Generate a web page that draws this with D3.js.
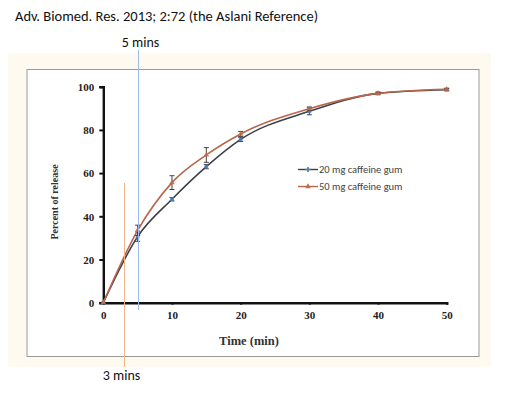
<!DOCTYPE html>
<html>
<head>
<meta charset="utf-8">
<script src="https://cdn.jsdelivr.net/npm/d3@7"></script>
<style>
  body { margin: 0; background: #fff; }
  svg { display: block; }
</style>
</head>
<body>
<svg id="chart" width="511" height="400"></svg>
<script>
// release data
const times = [0, 5, 10, 15, 20, 30, 40, 50];
const gum20 = [0, 30.6, 47.9, 63.0, 75.6, 88.6, 96.9, 98.6];
const gum20Err = [0, 2.2, 0.8, 1.0, 1.0, 1.6, 0.6, 0.5];
const gum50 = [0, 33.5, 55.6, 68.4, 78.1, 89.8, 96.9, 98.8];
const gum50Err = [0, 2.4, 3.2, 3.4, 1.2, 0.8, 0.5, 0.5];
const xTicks = [0, 10, 20, 30, 40, 50];
const yTicks = [0, 20, 40, 60, 80, 100];
const seriesNames = ["20 mg caffeine gum", "50 mg caffeine gum"];
const markTimes = [5, 3];
const markLabels = ["5 mins", "3 mins"];

const svg = d3.select("#chart");
const serif = "'Liberation Serif', 'Times New Roman', serif";
const sans = "Carlito, 'Open Sans', 'Noto Sans', sans-serif";

// header
svg.append("text")
    .attr("x", 15).attr("y", 21)
    .attr("font-family", sans).attr("font-size", 14.5)
    .attr("fill", "#111")
    .text("Adv. Biomed. Res. 2013; 2:72 (the Aslani Reference)");

// cream panel + white plot frame
svg.append("rect")
    .attr("x", 8).attr("y", 53).attr("width", 483).attr("height", 314)
    .attr("fill", "#fefaf0");
svg.append("rect")
    .attr("x", 27).attr("y", 69.5).attr("width", 452).attr("height", 287)
    .attr("fill", "#fff").attr("stroke", "#999").attr("stroke-width", 1);

const x = d3.scaleLinear().domain([0, 50]).range([103.3, 446.7]);
const y = d3.scaleLinear().domain([0, 100]).range([302.7, 86.7]);

// axes
const gx = svg.append("g")
    .attr("transform", `translate(0,${y(0)})`)
    .call(d3.axisBottom(x).tickValues(xTicks).tickSize(2).tickPadding(7).tickFormat(d3.format("d")));
const gy = svg.append("g")
    .attr("transform", `translate(${x(0)},0)`)
    .call(d3.axisLeft(y).tickValues(yTicks).tickSize(4).tickPadding(5).tickFormat(d3.format("d")));

[gx, gy].forEach(g => {
    g.select(".domain").attr("stroke", "#111").attr("stroke-width", 2.4);
    g.selectAll(".tick line").attr("stroke", "#111").attr("stroke-width", 2);
    g.selectAll("text")
        .attr("font-family", serif).attr("font-weight", "bold")
        .attr("font-size", 11).attr("fill", "#222");
});
gy.selectAll(".tick text").attr("dy", "0.35em");

// axis titles
svg.append("text")
    .attr("x", 249).attr("y", 345)
    .attr("text-anchor", "middle")
    .attr("font-family", serif).attr("font-weight", "bold").attr("font-size", 12.5)
    .attr("fill", "#333")
    .text("Time (min)");
svg.append("text")
    .attr("transform", `translate(58,${202}) rotate(-90)`)
    .attr("text-anchor", "middle")
    .attr("font-family", serif).attr("font-weight", "bold").attr("font-size", 10)
    .attr("fill", "#333")
    .text("Percent of release");

// series
const series = [
    { name: seriesNames[0], vals: gum20, err: gum20Err, line: "#3a3f48", mark: "#4f7fc0" },
    { name: seriesNames[1], vals: gum50, err: gum50Err, line: "#b8664c", mark: "#c0704a" }
];

const line = d3.line()
    .x(d => x(d[0]))
    .y(d => y(d[1]))
    .curve(d3.curveMonotoneX);

series.forEach(s => {
    const pts = times.map((t, i) => [t, s.vals[i], s.err[i]]);
    svg.append("path")
        .datum(pts)
        .attr("fill", "none")
        .attr("stroke", s.line)
        .attr("stroke-width", 1.6)
        .attr("d", line);

    // error bars
    const eb = svg.append("g").attr("stroke", "#444").attr("stroke-width", 1);
    pts.filter(d => d[2] > 0).forEach(d => {
        eb.append("line")
            .attr("x1", x(d[0])).attr("x2", x(d[0]))
            .attr("y1", y(d[1] + d[2])).attr("y2", y(d[1] - d[2]));
        eb.append("line")
            .attr("x1", x(d[0]) - 2.5).attr("x2", x(d[0]) + 2.5)
            .attr("y1", y(d[1] + d[2])).attr("y2", y(d[1] + d[2]));
        eb.append("line")
            .attr("x1", x(d[0]) - 2.5).attr("x2", x(d[0]) + 2.5)
            .attr("y1", y(d[1] - d[2])).attr("y2", y(d[1] - d[2]));
    });

    svg.append("g").selectAll("path")
        .data(pts)
        .join("path")
        .attr("transform", d => `translate(${x(d[0])},${y(d[1])})`)
        .attr("d", d3.symbol().type(s === series[0] ? d3.symbolSquare : d3.symbolTriangle).size(14))
        .attr("fill", s.mark)
        .attr("opacity", 0.85);
});

// legend
const legend = svg.append("g").attr("transform", "translate(298,169.5)");
series.forEach((s, i) => {
    const g = legend.append("g").attr("transform", `translate(0,${i * 17})`);
    g.append("line").attr("x1", 0).attr("x2", 20).attr("y1", 0).attr("y2", 0)
        .attr("stroke", s.line).attr("stroke-width", 1.4);
    g.append("path")
        .attr("transform", "translate(10,0)")
        .attr("d", d3.symbol().type(i === 0 ? d3.symbolCross : d3.symbolTriangle).size(14))
        .attr("fill", s.mark);
    g.append("text")
        .attr("x", 21).attr("y", 0).attr("dy", "0.35em")
        .attr("font-family", sans).attr("font-size", 10.5)
        .attr("fill", "#444")
        .text(s.name);
});

// annotation lines at 5 and 3 minutes
const x5 = Math.round(x(markTimes[0])) + 0.5;
svg.append("line")
    .attr("x1", x5).attr("x2", x5)
    .attr("y1", 50).attr("y2", 310)
    .attr("stroke", "#9dbbe8").attr("stroke-width", 1);
svg.append("text")
    .attr("x", x5 + 2).attr("y", 47)
    .attr("text-anchor", "middle")
    .attr("font-family", sans).attr("font-size", 14)
    .attr("fill", "#111")
    .text(markLabels[0]);

const x3 = Math.round(x(markTimes[1])) + 0.5;
svg.append("line")
    .attr("x1", x3).attr("x2", x3)
    .attr("y1", 183).attr("y2", 367)
    .attr("stroke", "#f2b48a").attr("stroke-width", 1);
svg.append("text")
    .attr("x", x3 - 3).attr("y", 380)
    .attr("text-anchor", "middle")
    .attr("font-family", sans).attr("font-size", 14)
    .attr("fill", "#111")
    .text(markLabels[1]);
</script>
</body>
</html>
